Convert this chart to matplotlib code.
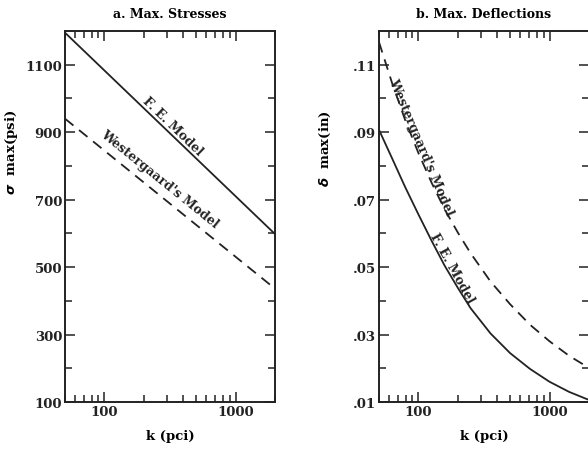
import matplotlib
matplotlib.use("Agg")
import matplotlib.pyplot as plt
from matplotlib.ticker import FixedLocator, LogLocator, NullFormatter, FuncFormatter

plt.rcParams['font.family'] = ['DejaVu Serif']
plt.rcParams['font.weight'] = 'bold'
plt.rcParams['axes.titleweight'] = 'bold'
plt.rcParams['axes.labelweight'] = 'bold'

# a. max stresses (psi) vs k (pci)
k_stress = [50, 2000]
fe_stress = [1195, 598]
west_stress = [940, 436]

# b. max deflections (in) vs k (pci)
k_defl = [50, 63, 79, 100, 126, 158, 200, 250, 355, 500, 710, 1000, 1410, 2000]
fe_defl = [0.0907, 0.0822, 0.0738, 0.0656, 0.0578, 0.0505, 0.0438, 0.0378,
           0.0303, 0.0245, 0.0198, 0.0160, 0.0130, 0.0106]
west_defl = [0.1167, 0.1045, 0.0937, 0.0838, 0.0750, 0.0672, 0.0602, 0.0541,
             0.0457, 0.0390, 0.0329, 0.0280, 0.0237, 0.0201]

ink = '#222222'

fig = plt.figure(figsize=(5.88, 4.52), dpi=100)
ax1 = fig.add_axes([65 / 588, 49 / 452, 210 / 588, 371 / 452])
ax2 = fig.add_axes([379 / 588, 49 / 452, 210 / 588, 371 / 452])


def style(ax):
    ax.set_xscale('log')
    ax.set_xlim(50, 2000)
    ax.xaxis.set_major_locator(FixedLocator([100, 1000]))
    ax.xaxis.set_major_formatter(FuncFormatter(lambda v, p: f"{int(v)}"))
    ax.xaxis.set_minor_locator(LogLocator(base=10, subs=range(2, 10)))
    ax.xaxis.set_minor_formatter(NullFormatter())
    ax.tick_params(which='both', direction='in', top=True, right=True,
                   colors=ink, labelsize=9.5, pad=2)
    ax.tick_params(which='major', length=7, width=1.1)
    ax.tick_params(which='minor', length=5, width=1.1)
    for s in ax.spines.values():
        s.set_linewidth(1.4)
        s.set_color(ink)
    ax.set_xlabel('k (pci)', fontsize=9.5, labelpad=8)


style(ax1)
ax1.plot(k_stress, fe_stress, color=ink, lw=1.3)
ax1.plot(k_stress, west_stress, color=ink, lw=1.3, ls=(0, (6, 4)))
ax1.set_ylim(100, 1200)
ax1.yaxis.set_major_locator(FixedLocator([100, 300, 500, 700, 900, 1100]))
ax1.yaxis.set_minor_locator(FixedLocator([200, 400, 600, 800, 1000]))
ax1.set_ylabel(r'$\sigma$  max(psi)', fontsize=9.5)
ax1.yaxis.set_label_coords(-0.215, 0.675)
ax1.set_title('a. Max. Stresses', fontsize=9, pad=10)
ax1.text(328, 918, 'F. E. Model', rotation=-44, fontsize=9,
         ha='center', va='center', color=ink)
ax1.text(261, 764, "Westergaard's Model", rotation=-39, fontsize=9,
         ha='center', va='center', color=ink)

style(ax2)
ax2.plot(k_defl, fe_defl, color=ink, lw=1.3)
ax2.plot(k_defl, west_defl, color=ink, lw=1.3, ls=(0, (6, 4)))
ax2.set_ylim(0.01, 0.12)
ax2.yaxis.set_major_locator(FixedLocator([0.01, 0.03, 0.05, 0.07, 0.09, 0.11]))
ax2.yaxis.set_minor_locator(FixedLocator([0.02, 0.04, 0.06, 0.08, 0.10]))
ax2.yaxis.set_major_formatter(FuncFormatter(lambda v, p: f"{v:.2f}"[1:]))
ax2.set_ylabel(r'$\delta$  max(in)', fontsize=9.5)
ax2.yaxis.set_label_coords(-0.22, 0.687)
ax2.set_title('b. Max. Deflections', fontsize=9, pad=10)
ax2.text(105, 0.0859, "Westergaard's Model", rotation=-67, fontsize=9,
         ha='center', va='center', color=ink)
ax2.text(180, 0.050, 'F. E. Model', rotation=-61, fontsize=9,
         ha='center', va='center', color=ink)

fig.savefig('out.png', dpi=100)
